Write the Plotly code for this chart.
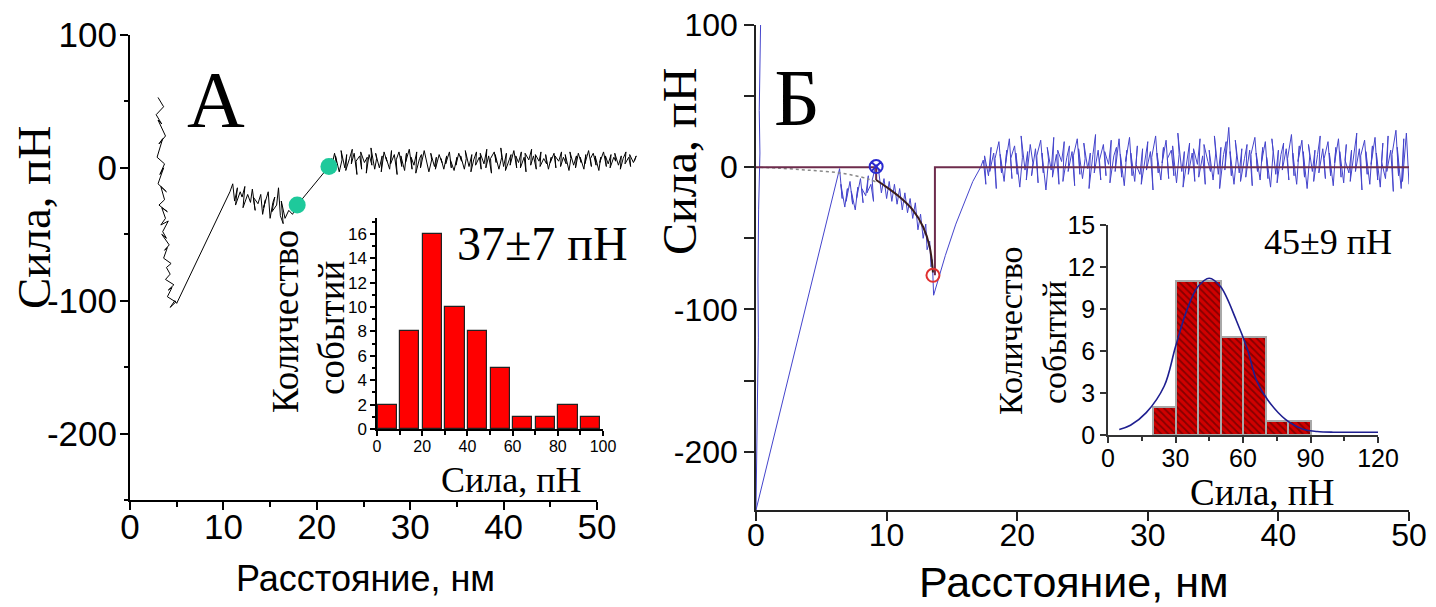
import plotly.graph_objects as go

W, H = 1436, 607
SANS = "Liberation Sans, Arial, sans-serif"
NARROW = "Liberation Sans Narrow, Arial Narrow, Liberation Sans, sans-serif"
SERIF = "Liberation Serif, Times New Roman, serif"

# ---------------- Panel A : force curve (black) ----------------
a_seg1_x = [3.0, 3.6, 2.8, 3.4, 3.0, 3.8, 3.1, 3.5, 2.9, 3.7,
            3.2, 3.6, 3.0, 3.9, 3.3, 3.7, 3.1, 4.0, 3.4, 3.8,
            3.3, 4.1, 3.5, 3.9, 3.4, 4.2, 3.7, 4.0, 3.6, 4.4,
            3.9, 4.3, 3.8, 4.7, 4.1, 4.5, 4.0, 4.9, 4.3, 4.8]
a_seg1_y = [53, 46, 40, 33, 36, 24, 18, 22, 8, 3,
            -5, 0, -12, -18, -14, -24, -28, -33, -30, -38,
            -43, -40, -48, -53, -50, -58, -62, -60, -68, -72,
            -75, -80, -84, -88, -92, -90, -97, -101, -105, -100]
a_seg2_x = [5.0, 10.7]
a_seg2_y = [-102, -18]
a_seg3_x = [11.0, 11.2, 11.5, 11.3, 11.8, 12.0, 12.3, 12.1, 12.6,
            12.9, 13.1, 13.4, 13.2, 13.7, 14.0, 14.2, 14.5, 14.3, 14.8,
            15.0, 15.3, 15.5, 15.2, 15.7, 15.9, 16.1, 16.4, 16.2, 16.6,
            17.0, 17.4, 17.9]
a_seg3_y = [-12, -25, -15, -28, -18, -22, -14, -30, -20,
            -26, -16, -32, -22, -27, -20, -35, -24, -30, -18,
            -38, -26, -22, -33, -28, -15, -36, -42, -25, -38,
            -32, -35, -28]
a_seg4_x = [21.3, 21.6, 21.5, 21.9, 22.1, 22.0, 22.4, 22.7, 22.6, 23.0,
            23.2, 23.1, 23.5, 23.8, 23.7, 24.0, 24.3, 24.2, 24.6, 24.8,
            24.7, 25.1, 25.4, 25.3, 25.6, 25.9, 25.8, 26.2, 26.4, 26.3,
            26.7, 27.0, 26.9, 27.2, 27.5, 27.4, 27.8, 28.0, 27.9, 28.3,
            28.6, 28.5, 28.8, 29.1, 29.0, 29.4, 29.6, 29.5, 29.9, 30.2,
            30.1, 30.4, 30.7, 30.6, 31.0, 31.2, 31.1, 31.5, 31.8, 31.7,
            32.0, 32.3, 32.2, 32.6, 32.8, 32.7, 33.1, 33.4, 33.3, 33.6,
            33.9, 33.8, 34.2, 34.4, 34.3, 34.7, 35.0, 34.9, 35.2, 35.5,
            35.4, 35.8, 36.0, 35.9, 36.3, 36.6, 36.5, 36.8, 37.1, 37.0,
            37.4, 37.6, 37.5, 37.9, 38.2, 38.1, 38.4, 38.7, 38.6, 39.0,
            39.2, 39.1, 39.5, 39.8, 39.7, 40.0, 40.3, 40.2, 40.6, 40.8,
            40.7, 41.1, 41.4, 41.3, 41.6, 41.9, 41.8, 42.2, 42.4, 42.3,
            42.7, 43.0, 42.9, 43.2, 43.5, 43.4, 43.8, 44.0, 43.9, 44.3,
            44.6, 44.5, 44.8, 45.1, 45.0, 45.4, 45.6, 45.5, 45.9, 46.2,
            46.1, 46.4, 46.7, 46.6, 47.0, 47.2, 47.1, 47.5, 47.8, 47.7,
            48.0, 48.3, 48.2, 48.6, 48.8, 48.7, 49.1, 49.4, 49.3, 49.6,
            49.9, 49.8, 50.2, 50.4, 50.3, 50.7, 51.0, 50.9, 51.2, 51.5,
            51.4, 51.8, 52.0, 51.9, 52.3, 52.6, 52.5, 52.8, 53.1, 53.0,
            53.4, 53.6, 53.5, 53.9, 54.2, 54.0]
a_seg4_y = [1, 7, -2, 11, 4, 9, -3, 6, 13, 0,
            10, -2, 7, 14, 3, 11, -5, 5, 9, -1,
            12, 4, 8, -4, 10, 2, 15, -1, 7, 11,
            0, 9, -3, 12, 5, 8, -1, 13, 3, 10,
            -5, 6, 12, 1, 9, -2, 11, 4, 14, -1,
            8, 2, 12, -4, 7, 10, 0, 13, 3, 9,
            -3, 6, 11, 1, 8, -1, 10, 4, 7, -1,
            9, 3, 12, 0, 6, -2, 8, 2, 11, 5,
            9, -1, 7, 13, 1, 10, -3, 6, 12, 2,
            8, -1, 11, 3, 14, 0, 9, -4, 7, 12,
            4, 10, -1, 8, 15, 1, 11, -2, 6, 10,
            2, 13, 0, 9, 4, 12, 0, 8, -3, 11,
            6, 14, 2, 9, -1, 10, 5, 12, 1, 7,
            3, 10, -1, 8, 4, 11, 0, 9, 5, 12,
            1, 8, 3, 10, -2, 7, 12, 2, 9, 0,
            11, 4, 8, -1, 10, 3, 13, 1, 7, 11,
            2, 9, -2, 8, 4, 12, 1, 9, 3, 10,
            0, 8, 5, 11, 2, 9, -1, 7, 12, 3,
            8, 1, 10, 4, 9, 5]
a_dots_x = [17.9, 21.3]
a_dots_y = [-28, 1]
a_yticks = [-200, -100, 0, 100]
a_yticklabels = ["-200", "-100", "0", "100"]

# Panel A inset histogram
a_hist_bins = [0, 10, 20, 30, 40, 50, 60, 70, 80, 90]
a_hist_counts = [2, 8, 16, 10, 8, 5, 1, 1, 2, 1]

# ---------------- Panel B : force curve (blue) ----------------
b_app_x = [0.35, 0.3, 0.25, 0.3, 0.2, 0.15, 0.18, 0.1, 0.05, 0.0]
b_app_y = [100, 70, 40, 10, -30, -80, -120, -170, -210, -241]
b_plat_x = [6.4, 6.6, 6.5, 6.8, 7.0, 6.9, 7.2, 7.4, 7.3, 7.6, 7.8,
            7.7, 8.0, 8.2, 8.1, 8.4, 8.6, 8.5, 8.8, 9.0, 8.9, 9.2]
b_plat_y = [-1, -22, -12, -28, -15, -24, -10, -26, -17, -30, -14,
            -22, -8, -25, -15, -20, -6, -18, -12, -24, -9, 2]
b_desc_x = [9.4, 9.6, 9.8, 10.0, 10.2, 10.4, 10.6, 10.8, 11.0, 11.2, 11.4, 11.6,
            11.8, 12.0, 12.2, 12.4, 12.6, 12.8, 13.0, 13.1, 13.3, 13.4, 13.5, 13.6]
b_desc_y = [-3, -18, -8, -22, -10, -24, -12, -26, -15, -30, -18, -32,
            -22, -36, -25, -44, -33, -50, -40, -58, -52, -70, -65, -90]
b_rise_x = [13.8, 14.5, 15.3, 16.0, 16.6, 17.2]
b_rise_y = [-84, -62, -40, -24, -10, 0]
b_noise_x = [17.4, 17.6, 17.5, 17.8, 18.0, 17.9, 18.2, 18.4, 18.3, 18.6,
             18.8, 18.7, 19.0, 19.2, 19.1, 19.4, 19.6, 19.5, 19.8, 20.0,
             19.9, 20.2, 20.4, 20.3, 20.6, 20.8, 20.7, 21.0, 21.2, 21.1,
             21.4, 21.6, 21.5, 21.8, 22.0, 21.9, 22.2, 22.4, 22.3, 22.6,
             22.8, 22.7, 23.0, 23.2, 23.1, 23.4, 23.6, 23.5, 23.8, 24.0,
             23.9, 24.2, 24.4, 24.3, 24.6, 24.8, 24.7, 25.0, 25.2, 25.1,
             25.4, 25.6, 25.5, 25.8, 26.0, 25.9, 26.2, 26.4, 26.3, 26.6,
             26.8, 26.7, 27.0, 27.2, 27.1, 27.4, 27.6, 27.5, 27.8, 28.0,
             27.9, 28.2, 28.4, 28.3, 28.6, 28.8, 28.7, 29.0, 29.2, 29.1,
             29.4, 29.6, 29.5, 29.8, 30.0, 29.9, 30.2, 30.4, 30.3, 30.6,
             30.8, 30.7, 31.0, 31.2, 31.1, 31.4, 31.6, 31.5, 31.8, 32.0,
             31.9, 32.2, 32.4, 32.3, 32.6, 32.8, 32.7, 33.0, 33.2, 33.1,
             33.4, 33.6, 33.5, 33.8, 34.0, 33.9, 34.2, 34.4, 34.3, 34.6,
             34.8, 34.7, 35.0, 35.2, 35.1, 35.4, 35.6, 35.5, 35.8, 36.0,
             35.9, 36.2, 36.4, 36.3, 36.6, 36.8, 36.7, 37.0, 37.2, 37.1,
             37.4, 37.6, 37.5, 37.8, 38.0, 37.9, 38.2, 38.4, 38.3, 38.6,
             38.8, 38.7, 39.0, 39.2, 39.1, 39.4, 39.6, 39.5, 39.8, 40.0,
             39.9, 40.2, 40.4, 40.3, 40.6, 40.8, 40.7, 41.0, 41.2, 41.1,
             41.4, 41.6, 41.5, 41.8, 42.0, 41.9, 42.2, 42.4, 42.3, 42.6,
             42.8, 42.7, 43.0, 43.2, 43.1, 43.4, 43.6, 43.5, 43.8, 44.0,
             43.9, 44.2, 44.4, 44.3, 44.6, 44.8, 44.7, 45.0, 45.2, 45.1,
             45.4, 45.6, 45.5, 45.8, 46.0, 45.9, 46.2, 46.4, 46.3, 46.6,
             46.8, 46.7, 47.0, 47.2, 47.1, 47.4, 47.6, 47.5, 47.8, 48.0,
             47.9, 48.2, 48.4, 48.3, 48.6, 48.8, 48.7, 49.0, 49.2, 49.1,
             49.4, 49.6, 49.5, 49.8, 50.0]
b_noise_y = [5, -12, 8, -6, 14, -3, 10, -15, 6, 18,
             -4, 9, -10, 12, 2, 20, -8, 6, 15, -5,
             10, -14, 7, 22, -2, 11, -9, 16, 3, -6,
             13, -11, 8, 19, -4, 10, -16, 5, 14, -2,
             21, -7, 9, -12, 12, 4, 18, -10, 7, 15,
             -3, 11, -13, 8, 20, -5, 13, -8, 6, 17,
             -1, 10, -15, 9, 23, -4, 12, -9, 5, 16,
             -6, 11, 2, 19, -11, 8, 14, -3, 20, -7,
             9, -13, 12, 4, 21, -6, 10, -10, 15, 2,
             -5, 13, -12, 8, 18, -2, 11, -16, 7, 22,
             -4, 10, -9, 14, 3, 19, -8, 6, 12, -6,
             15, -11, 9, 24, -3, 11, -14, 7, 17, -5,
             10, -10, 13, 2, 20, -7, 8, -12, 16, 4,
             -3, 12, -9, 10, 22, -5, 14, -15, 9, 18,
             -2, 28, -6, 11, -12, 8, 19, -4, 13, -10,
             6, 16, -7, 12, -13, 9, 21, -3, 10, -9,
             14, 3, 18, -8, 7, -14, 11, 20, -5, 12,
             -11, 9, 17, -2, 13, -9, 6, 23, -6, 10,
             -12, 15, 4, 19, -7, 11, -15, 8, 16, -3,
             12, -10, 9, 22, -4, 13, -8, 6, 18, -6,
             10, -13, 14, 3, 20, -7, 11, -11, 16, 5,
             -4, 12, -10, 9, 24, -3, 13, -16, 8, 19,
             -5, 11, -12, 15, 2, 21, -9, 10, -14, 17,
             4, -8, 22, -3, 12, -17, 9, 26, -6, 14,
             -15, 20, -10, 24, -12]
b_ext_x = [0.3, 1.8, 3.9, 6.4, 8.5, 9.2]
b_ext_y = [0, -0.7, -2, -4, -8, -10.5]
b_fit_x = [9.2, 10.0, 11.0, 12.0, 12.8, 13.3, 13.55]
b_fit_y = [-9, -14, -21, -30, -42, -56, -74]
b_base_x = [0, 9.2, 9.2, None, 13.7, 13.7, 50]
b_base_y = [0, 0, -9, None, -76, 0, 0]
b_start_pt = (9.2, 0.5)
b_rupt_pt = (13.55, -76)
b_yticks = [-200, -150, -100, -50, 0, 50, 100]
b_yticklabels = ["-200", "", "-100", "", "0", "", "100"]

# Panel B inset histogram + gaussian
b_hist_bins = [20, 30, 40, 50, 60, 70, 80]
b_hist_counts = [2, 11, 11, 7, 7, 1, 1]
b_gauss_x = [5, 10, 17, 25, 30, 35, 40, 45, 50, 57, 62, 66, 71, 79, 87, 93, 100, 110, 120]
b_gauss_y = [0.4, 0.7, 1.6, 3.5, 6.3, 8.9, 10.6, 11.2, 10.6, 8.2, 6.1, 3.9, 2.5, 1.1, 0.4, 0.25, 0.2, 0.2, 0.2]


def fx(px):
    return px / W


def fy(py):
    return 1 - py / H


fig = go.Figure()

# empty trace so that the visible A subplot (x, y) exists
fig.add_trace(go.Scatter(x=[None], y=[None], mode="lines", xaxis="x", yaxis="y",
                         showlegend=False, hoverinfo="skip"))

a_x = a_seg1_x + a_seg2_x + a_seg3_x + a_seg4_x
a_y = a_seg1_y + a_seg2_y + a_seg3_y + a_seg4_y
fig.add_trace(go.Scatter(x=a_x, y=a_y, mode="lines", line=dict(color="black", width=1),
                         xaxis="x5", yaxis="y", showlegend=False))
fig.add_trace(go.Scatter(x=a_dots_x, y=a_dots_y, mode="markers",
                         marker=dict(color="#1ec99b", size=17), xaxis="x5", yaxis="y",
                         showlegend=False))

fig.add_trace(go.Bar(x=a_hist_bins, y=a_hist_counts, offset=0.3, width=8.5,
                     marker=dict(color="#ff0000", line=dict(color="#222222", width=1.2)),
                     xaxis="x3", yaxis="y3", showlegend=False))

b_x = b_app_x + b_plat_x + b_desc_x + b_rise_x + b_noise_x
b_y = b_app_y + b_plat_y + b_desc_y + b_rise_y + b_noise_y
fig.add_trace(go.Scatter(x=b_x, y=b_y, mode="lines", line=dict(color="#4444cc", width=1),
                         xaxis="x2", yaxis="y2", showlegend=False))
fig.add_trace(go.Scatter(x=b_ext_x, y=b_ext_y, mode="lines",
                         line=dict(color="#888888", width=1.5, dash="dot", shape="spline"),
                         xaxis="x2", yaxis="y2", showlegend=False))
fig.add_trace(go.Scatter(x=b_base_x, y=b_base_y, mode="lines",
                         line=dict(color="#6e2c4c", width=2),
                         xaxis="x2", yaxis="y2", showlegend=False))
fig.add_trace(go.Scatter(x=b_fit_x, y=b_fit_y, mode="lines",
                         line=dict(color="#3a1c1c", width=2, shape="spline"),
                         xaxis="x2", yaxis="y2", showlegend=False))
fig.add_trace(go.Scatter(x=[b_start_pt[0]], y=[b_start_pt[1]], mode="markers",
                         marker=dict(symbol="circle-x-open", size=13, color="#2a2ad0",
                                     line=dict(width=2)),
                         xaxis="x2", yaxis="y2", showlegend=False))
fig.add_trace(go.Scatter(x=[b_rupt_pt[0]], y=[b_rupt_pt[1]], mode="markers",
                         marker=dict(symbol="circle-open", size=13, color="#e03030",
                                     line=dict(width=2)),
                         xaxis="x2", yaxis="y2", showlegend=False))

fig.add_trace(go.Bar(x=b_hist_bins, y=b_hist_counts, offset=0, width=10,
                     marker=dict(color="#d00000", line=dict(color="#a8a8a8", width=2),
                                 pattern=dict(shape="\\", fgcolor="#3a0000", bgcolor="#d00000",
                                              size=5, solidity=0.35)),
                     xaxis="x4", yaxis="y4", showlegend=False))
fig.add_trace(go.Scatter(x=b_gauss_x, y=b_gauss_y, mode="lines",
                         line=dict(color="#1e1e90", width=1.6, shape="spline"),
                         xaxis="x4", yaxis="y4", showlegend=False))

base = dict(showgrid=False, zeroline=False, showline=True, linecolor="black",
            ticks="outside", tickcolor="black", fixedrange=True, automargin=False)

fig.update_layout(
    width=W, height=H, margin=dict(l=0, r=0, t=0, b=0, pad=0, autoexpand=False),
    paper_bgcolor="white", plot_bgcolor="rgba(0,0,0,0)",
    bargap=0,
    xaxis=dict(base, domain=[fx(130), fx(597)], range=[0, 50], anchor="y",
               linewidth=2, tickwidth=2, ticklen=8, dtick=10, tick0=0,
               ticklabelstandoff=-13,
               minor=dict(dtick=5, ticklen=5, tickwidth=2, ticks="outside", tickcolor="black"),
               tickfont=dict(family=SANS, size=35, color="black")),
    yaxis=dict(base, domain=[fy(500), fy(35)], range=[-250, 100], anchor="x",
               linewidth=2, tickwidth=2, ticklen=8, ticklabelstandoff=-4,
               tickvals=a_yticks, ticktext=a_yticklabels,
               minor=dict(dtick=50, tick0=0, ticklen=4, tickwidth=2, ticks="outside",
                          tickcolor="black"),
               tickfont=dict(family=SANS, size=35, color="black")),
    xaxis5=dict(domain=[fx(130), fx(637)], range=[0, 50 * (637 - 130) / (597 - 130)],
                anchor="y", visible=False, fixedrange=True, automargin=False),
    xaxis2=dict(base, domain=[fx(756), fx(1409)], range=[0, 50], anchor="y2",
                linewidth=1.5, tickwidth=1.5, ticklen=9, dtick=10, tick0=0,
                ticklabelstandoff=-13,
                linecolor="#222", tickcolor="#222",
                tickfont=dict(family=NARROW, size=32, color="black")),
    yaxis2=dict(base, domain=[fy(510), fy(25)], range=[-241, 100], anchor="x2",
                linewidth=1.5, tickwidth=1.5, ticklen=10, linecolor="#222", tickcolor="#222",
                tickvals=b_yticks, ticktext=b_yticklabels,
                tickfont=dict(family=NARROW, size=32, color="black")),
    xaxis3=dict(base, domain=[fx(377), fx(603)], range=[0, 100], anchor="y3",
                linewidth=1.5, tickwidth=1.5, ticklen=5, dtick=20, tick0=0,
                ticklabelstandoff=-3,
                minor=dict(dtick=10, ticklen=4, tickwidth=1.5, ticks="outside", tickcolor="black"),
                tickfont=dict(family=NARROW, size=16, color="black")),
    yaxis3=dict(base, domain=[fy(429), fy(218)], range=[0, 17.3], anchor="x3",
                linewidth=1.5, tickwidth=1.5, ticklen=5, dtick=2, tick0=0,
                minor=dict(dtick=1, ticklen=3, tickwidth=1.5, ticks="outside", tickcolor="black"),
                tickfont=dict(family=NARROW, size=17, color="black")),
    xaxis4=dict(base, domain=[fx(1108), fx(1378)], range=[0, 120], anchor="y4",
                linewidth=1.5, tickwidth=1.5, ticklen=6, dtick=30, tick0=0,
                ticklabelstandoff=-6,
                linecolor="#333", tickcolor="#333",
                minor=dict(dtick=15, ticklen=4, tickwidth=1.5, ticks="outside", tickcolor="#333"),
                tickfont=dict(family=SANS, size=25, color="black")),
    yaxis4=dict(base, domain=[fy(435), fy(225)], range=[0, 15], anchor="x4",
                linewidth=1.5, tickwidth=1.5, ticklen=6, dtick=3, tick0=0,
                linecolor="#333", tickcolor="#333",
                tickfont=dict(family=SANS, size=25, color="black")),
)


def ann(text, px, py, size, family=SERIF, angle=0):
    fig.add_annotation(text=text, x=fx(px), y=fy(py), xref="paper", yref="paper",
                       xanchor="center", yanchor="middle", showarrow=False,
                       textangle=angle, font=dict(family=family, size=size, color="black"))


ann("Сила, пН", 34, 218, 47, angle=-90)
ann("Расстояние, нм", 365, 578, 36, family=SANS)
ann("А", 216, 100, 80)
ann("37±7 пН", 542, 243, 48)
ann("Количество", 285, 322, 37, angle=-90)
ann("событий", 331, 328, 37, angle=-90)
ann("Сила, пН", 511, 480, 36)

ann("Сила, пН", 679, 162, 48, angle=-90)
ann("Расстояние, нм", 1073, 582, 43, family=SANS)
ann("Б", 797, 98, 80)
ann("45±9 пН", 1328, 242, 36)
ann("Количество", 1010, 331, 34, angle=-90)
ann("событий", 1054, 343, 34, angle=-90)
ann("Сила, пН", 1262, 492, 37)

fig.write_html("out.html", config={"displayModeBar": False},
               post_script="document.body.style.margin='0';document.body.style.padding='0';")
